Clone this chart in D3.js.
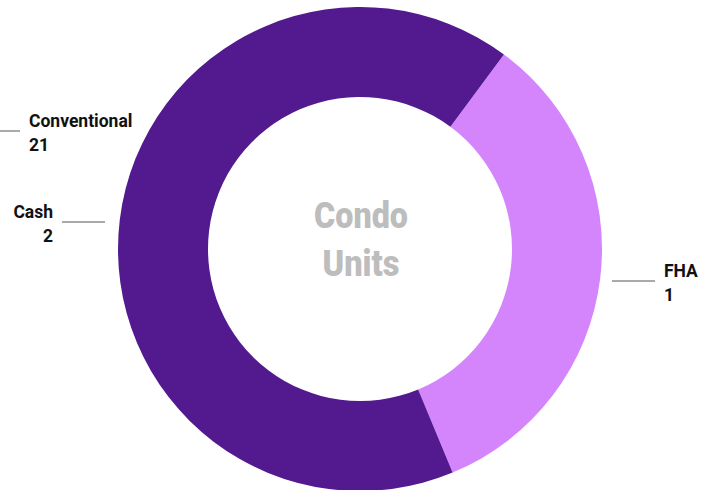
<!DOCTYPE html>
<html>
<head>
<meta charset="utf-8">
<script src="https://cdn.jsdelivr.net/npm/d3@7"></script>
<style>
  body { margin: 0; background: #fff; }
  svg { display: block; }
</style>
</head>
<body>
<svg></svg>
<script>
// labels shown beside the ring
let categories = ["Conventional", "Cash", "FHA"]
let counts = [21, 2, 1]

// ring slices as drawn in the picture (degrees of arc)
let sliceNames = ["FHA", "Conventional / Cash"]
let sliceDegrees = [121, 239]
let sliceColors = ["#d585fc", "#521a8e"]

let titleLines = ["Condo", "Units"]

let width = 712
let height = 490
let cx = 360
let cy = 249
let outerR = 242
let innerR = 152

let svg = d3.select("svg")
    .attr("width", width)
    .attr("height", height)

let pie = d3.pie()
    .sort(null)
    .value(d => d)
    .startAngle(36.5 * Math.PI / 180)
    .endAngle((36.5 + 360) * Math.PI / 180)

let arc = d3.arc()
    .innerRadius(innerR)
    .outerRadius(outerR)

let g = svg.append("g")
    .attr("transform", "translate(" + cx + "," + cy + ")")

g.selectAll("path")
    .data(pie(sliceDegrees))
    .enter()
    .append("path")
    .attr("d", arc)
    .attr("fill", (d, i) => sliceColors[i])

// centre title
let titleY = [228, 276]
let titleW = [94, 77]
svg.selectAll(".title")
    .data(titleLines)
    .enter()
    .append("text")
    .attr("class", "title")
    .attr("x", 361)
    .attr("y", (d, i) => titleY[i])
    .attr("text-anchor", "middle")
    .attr("textLength", (d, i) => titleW[i])
    .attr("lengthAdjust", "spacingAndGlyphs")
    .style("font-family", "Roboto, sans-serif")
    .style("font-weight", "900")
    .style("font-size", "37px")
    .style("fill", "#bdbdbd")
    .text(d => d)

// callout labels
let labelPos = [
    {x: 29, y: 127, anchor: "start", line: [0, 20, 131]},
    {x: 53, y: 218, anchor: "end", line: [62, 105, 222]},
    {x: 664, y: 277, anchor: "start", line: [612, 655, 281]}
]

categories.forEach((c, i) => {
    let p = labelPos[i]
    svg.append("line")
        .attr("x1", p.line[0])
        .attr("x2", p.line[1])
        .attr("y1", p.line[2])
        .attr("y2", p.line[2])
        .attr("stroke", "#555")
        .attr("stroke-width", 1)

    let t = svg.append("text")
        .attr("x", p.x)
        .attr("y", p.y)
        .attr("text-anchor", p.anchor)
        .style("font-family", "Roboto, sans-serif")
        .style("font-weight", "700")
        .style("font-size", "17.5px")
        .style("fill", "#111")
    t.append("tspan").attr("x", p.x).text(c)
    t.append("tspan").attr("x", p.x).attr("dy", 23.5).text(counts[i])
})
</script>
</body>
</html>
